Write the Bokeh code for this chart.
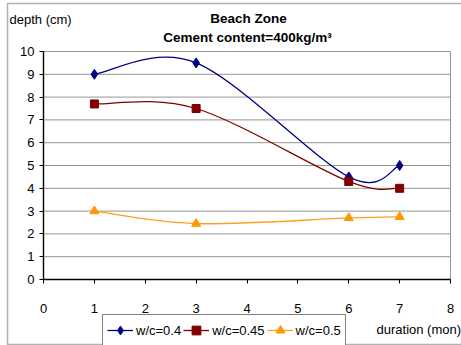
from bokeh.plotting import figure
from bokeh.models import (Range1d, FixedTicker, Legend, LegendItem, Label,
                          BoxAnnotation, ColumnDataSource, LinearAxis)
from bokeh.embed import file_html
from bokeh.resources import INLINE

# ---- data ----
months = [1, 3, 6, 7]
wc_040 = [9.0, 9.5, 4.5, 5.0]
wc_045 = [7.7, 7.5, 4.3, 4.0]
wc_050 = [3.0, 2.45, 2.7, 2.75]
series_names = ["w/c=0.4", "w/c=0.45", "w/c=0.5"]
x_ticks = [0, 1, 2, 3, 4, 5, 6, 7, 8]
y_ticks = [0, 1, 2, 3, 4, 5, 6, 7, 8, 9, 10]
title_1 = "Beach Zone"
title_2 = "Cement content=400kg/m\u00b3"
y_title = "depth (cm)"
x_title = "duration (mon)"

FONT = "Liberation Sans"

# ---- layout (pixels) ----
W, H = 461, 345
PL, PR, PT, PB = 43, 450, 51, 279   # plot-area edges on the canvas
GRID = "#959595"

xmin, xmax = x_ticks[0], x_ticks[-1]
ymin, ymax = y_ticks[0], y_ticks[-1]
sx = (PR - PL) / (xmax - xmin)
sy = (PB - PT) / (ymax - ymin)


def bezier_source(xs, ys):
    """Smooth (Excel-like) curve through the data points as cubic Bezier segments."""
    n = len(xs)
    d = dict(x0=[], y0=[], x1=[], y1=[], cx0=[], cy0=[], cx1=[], cy1=[])
    for i in range(n - 1):
        a = max(i - 1, 0)
        b = min(i + 2, n - 1)
        d["x0"].append(xs[i]); d["y0"].append(ys[i])
        d["x1"].append(xs[i + 1]); d["y1"].append(ys[i + 1])
        d["cx0"].append(xs[i] + (xs[i + 1] - xs[a]) / 6.0)
        d["cy0"].append(ys[i] + (ys[i + 1] - ys[a]) / 6.0)
        d["cx1"].append(xs[i + 1] - (xs[b] - xs[i]) / 6.0)
        d["cy1"].append(ys[i + 1] - (ys[b] - ys[i]) / 6.0)
    return ColumnDataSource(d)


# the frame covers the whole canvas; ranges are extended so the plot area sits
# exactly where the reference has it
p = figure(width=W, height=H, output_backend="svg", toolbar_location=None,
           x_axis_type=None, y_axis_type=None,
           x_range=Range1d(xmin - PL / sx, xmax + (W - PR) / sx),
           y_range=Range1d(ymin - (H - PB) / sy, ymax + PT / sy),
           min_border=0)
p.background_fill_color = "white"
p.border_fill_color = "white"
p.outline_line_color = None
p.grid.visible = False

# horizontal gridlines and right edge of the plot area
gy = [v for v in y_ticks if v != ymin]
p.segment(x0=[xmin] * len(gy), x1=[xmax] * len(gy), y0=gy, y1=gy,
          line_color=GRID, line_width=1)
p.segment(x0=[xmax], x1=[xmax], y0=[ymin], y1=[ymax], line_color=GRID, line_width=1)

xaxis = LinearAxis(fixed_location=ymin, bounds=(xmin, xmax),
                   ticker=FixedTicker(ticks=x_ticks))
yaxis = LinearAxis(fixed_location=xmin, bounds=(ymin, ymax),
                   ticker=FixedTicker(ticks=y_ticks))
for ax in (xaxis, yaxis):
    ax.axis_line_color = "black"
    ax.axis_line_width = 1.4
    ax.major_tick_line_color = "black"
    ax.major_tick_in = 0
    ax.major_tick_out = 4
    ax.minor_tick_line_color = None
    ax.major_label_text_font = FONT
    ax.major_label_text_font_size = "13px"
    ax.major_label_text_color = "black"
xaxis.major_label_standoff = 20
yaxis.major_label_standoff = 5
p.add_layout(xaxis, "below")
p.add_layout(yaxis, "left")

styles = [
    (wc_040, "#000080", "#000080", "diamond", 10),
    (wc_045, "#800000", "#800000", "square", 8),
    (wc_050, "#FFA020", "#FF9900", "triangle", 9),
]

items = []
for (vals, lcol, mcol, marker, size), name in zip(styles, series_names):
    src = bezier_source(months, vals)
    bz = p.bezier(x0="x0", y0="y0", x1="x1", y1="y1", cx0="cx0", cy0="cy0",
                  cx1="cx1", cy1="cy1", source=src, line_color=lcol, line_width=1.3)
    sc = p.scatter(months, vals, marker=marker, size=size,
                   fill_color=mcol, line_color=mcol)
    items.append(LegendItem(label=name, renderers=[bz, sc]))

LEG_H = 30
legend = Legend(items=items, orientation="horizontal",
                location=(102, H - 316 - LEG_H),
                padding=4, spacing=2, margin=0,
                glyph_width=26, glyph_height=22, label_height=22,
                label_standoff=3,
                label_text_font=FONT, label_text_font_size="13px",
                label_text_color="black",
                border_line_color="black", border_line_width=1,
                background_fill_color="white", background_fill_alpha=1)
p.add_layout(legend, "center")

# outer chart border (left, top and bottom edges are visible)
p.add_layout(BoxAnnotation(left=7, right=W + 20, top=H - 3, bottom=H - 344,
                           left_units="screen", right_units="screen",
                           top_units="screen", bottom_units="screen",
                           fill_color=None, line_color="black", line_width=1.6))


def add_text(text, cx, cy, size, bold=False, align="center"):
    p.add_layout(Label(x=cx, y=H - cy, x_units="screen", y_units="screen",
                       text=text, text_font=FONT, text_font_size=size,
                       text_font_style="bold" if bold else "normal",
                       text_color="black", text_align=align, text_baseline="middle"))


add_text(title_1, 248, 18, "13.5px", bold=True)
add_text(title_2, 247, 37, "13.5px", bold=True)
add_text(y_title, 9, 19, "13px", align="left")
add_text(x_title, 376, 329, "13px", align="left")

open("out.html", "w").write(file_html(p, INLINE))
